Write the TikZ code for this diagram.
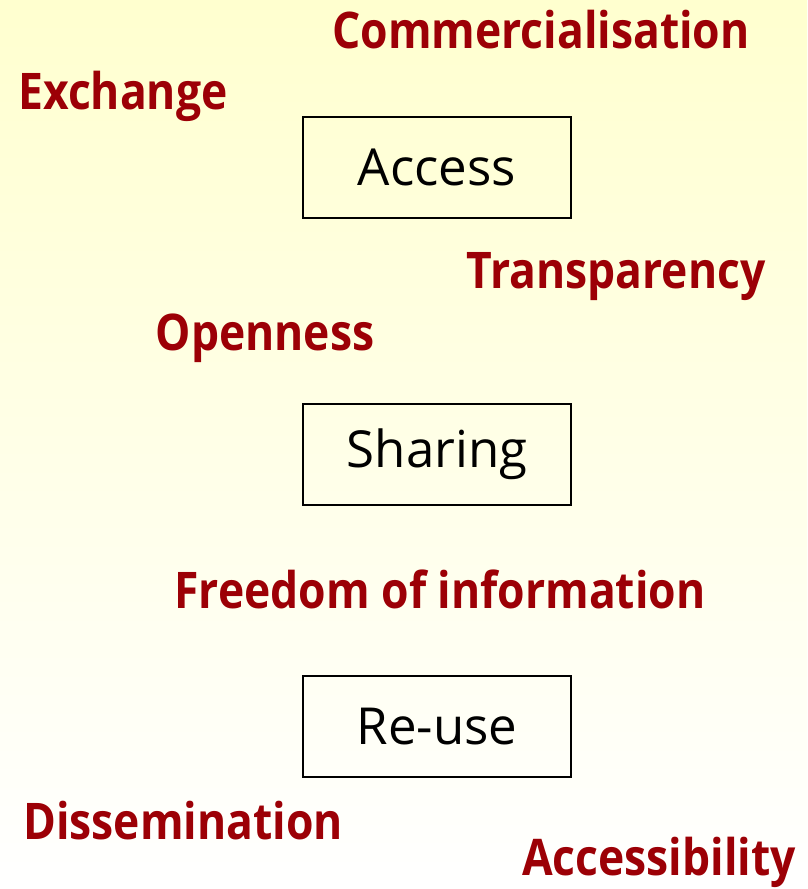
\documentclass[tikz,border=0pt]{standalone}
\usepackage{fontspec}
\usepackage{tikz}
\newfontfamily\termfont[FakeStretch=0.88]{Open Sans Bold}
\newfontfamily\boxfont{Open Sans}
\definecolor{termred}{HTML}{9C0006}
\definecolor{paleyellow}{HTML}{FFFFCF}
\tikzset{
	term/.style = {inner sep=0pt, anchor=center, text=termred,
		font=\termfont\fontsize{50.5}{56}\selectfont},
	box/.style = {rectangle, draw=black, line width=1.2pt, minimum width=268pt,
		minimum height=101pt, inner sep=0pt, font=\boxfont\fontsize{51}{56}\selectfont}
}
\begin{document}
\begin{tikzpicture}[x=1pt,y=-1pt]
\shade[top color=paleyellow, bottom color=white] (0,0) rectangle (807,889);
\useasboundingbox (0,0) rectangle (807,889);
% boxes
\node [box] (access) at (437,167.5) {Access};
\node [box] (sharing) at (437,454.5) {Sharing};
\node [box] (reuse) at (437,726.5) {Re-use};
% terms
\node [term] (comm) at (541,30) {Commercialisation};
\node [term] (exch) at (123,96) {Exchange};
\node [term] (transp) at (616,277) {Transparency};
\node [term] (open) at (265,338) {Openness};
\node [term] (freedom) at (440,589) {Freedom of information};
\node [term] (dissem) at (183,821) {Dissemination};
\node [term] (accbl) at (659,862) {Accessibility};
\end{tikzpicture}
\end{document}
